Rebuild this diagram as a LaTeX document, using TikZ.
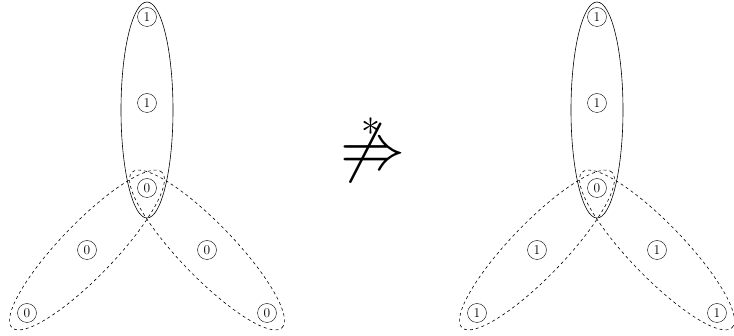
\documentclass[tikz,border=0pt]{standalone}
\usepackage{amsmath,amssymb}
\usetikzlibrary{calc}
\tikzset{
  bit/.style={draw, circle, inner sep=0pt, minimum size=19pt, font=\fontsize{13.5}{13.5}\selectfont},
  setline/.style={draw, line width=0.6pt},
  setdash/.style={draw, dashed, line width=0.6pt},
}
\begin{document}
\begin{tikzpicture}[x=1pt, y=-1pt]
\useasboundingbox (0,0) rectangle (734,336);

% Left triple of sets.
\node[bit] (lt) at (147,17) {1};
\node[bit] (lm) at (147,103) {1};
\node[bit] (lc) at (147,188) {0};
\node[bit] (ll1) at (87,250) {0};
\node[bit] (ll2) at (27,313) {0};
\node[bit] (lr1) at (207,250) {0};
\node[bit] (lr2) at (267,313) {0};

\draw[setline] ($(lm)+(0,7)$) ellipse (26pt and 108pt);
\draw[setdash, rotate around={46:(ll1)}] (ll1) ellipse (108pt and 27pt);
\draw[setdash, rotate around={-46:(lr1)}] (lr1) ellipse (108pt and 27pt);

% Not implied.
\node[inner sep=0pt] (nimp) at (373,153) {\scalebox{6.5}{$\not\Rightarrow$}};
\node[inner sep=0pt] (star) at (371,127) {\scalebox{3.8}{$\ast$}};

% Right triple of sets.
\node[bit] (rt) at (597,17) {1};
\node[bit] (rm) at (597,103) {1};
\node[bit] (rc) at (597,188) {0};
\node[bit] (rl1) at (537,250) {1};
\node[bit] (rl2) at (477,313) {1};
\node[bit] (rr1) at (657,250) {1};
\node[bit] (rr2) at (717,313) {1};

\draw[setline] ($(rm)+(0,7)$) ellipse (26pt and 108pt);
\draw[setdash, rotate around={46:(rl1)}] (rl1) ellipse (108pt and 27pt);
\draw[setdash, rotate around={-46:(rr1)}] (rr1) ellipse (108pt and 27pt);

\end{tikzpicture}
\end{document}
